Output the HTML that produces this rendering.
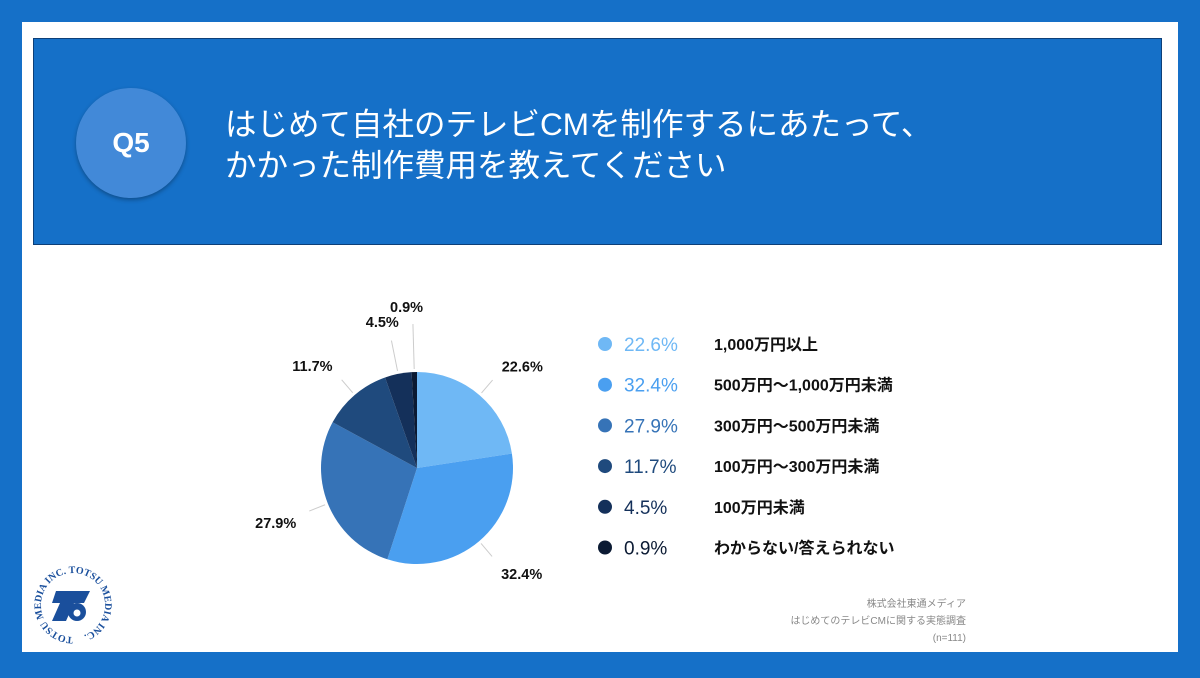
<!DOCTYPE html>
<html><head><meta charset="utf-8"><style>
body{margin:0;width:1200px;height:678px;background:#1570c8;position:relative;overflow:hidden;font-family:"Liberation Sans","Noto Sans CJK JP",sans-serif}
.abs{position:absolute}
</style></head><body>
<div class="abs" style="left:22px;top:22px;width:1156px;height:630px;background:#fff"></div>
<div class="abs" style="left:33px;top:38px;width:1127px;height:205px;background:#1570c8;border:1px solid #0d3f78"></div>
<div class="abs" style="left:76px;top:88px;width:110px;height:110px;border-radius:50%;background:#4289d8;box-shadow:0 2px 4px rgba(0,0,0,.3);color:#fff;font-weight:bold;font-size:28px;line-height:110px;text-align:center">Q5</div>
<div class="abs" style="left:225px;top:104px;color:#fff;font-size:31.5px;line-height:41px;white-space:nowrap">はじめて自社のテレビCMを制作するにあたって、<br>かかった制作費用を教えてください</div>
<svg class="abs" style="left:0;top:0" width="1200" height="678">
<g id="pie"></g><g id="legend"></g>
</svg>
<div class="abs" style="right:234px;top:596px;text-align:right;color:#888;font-size:10px;line-height:17px">株式会社東通メディア<br>はじめてのテレビCMに関する実態調査<br>(n=111)</div>
<svg class="abs" style="left:28px;top:565px" width="90" height="80" viewBox="0 0 90 80">
<defs><path id="lc" d="M45,72 a32,32 0 1,1 0.1,0"/></defs>
<text font-family="Liberation Serif" font-weight="bold" font-size="10" fill="#1a4f9c"><textPath href="#lc">TOTSU MEDIA INC. TOTSU MEDIA INC.</textPath></text>
<polygon points="28,26 62,26 56,38 46,38 38,56 24,56 32,38 24,38" fill="#1a4f9c"/>
<circle cx="49" cy="47" r="9" fill="#1a4f9c"/><circle cx="49" cy="48" r="3.5" fill="#fff"/>
</svg>
<script>
const categories=["1,000万円以上","500万円〜1,000万円未満","300万円〜500万円未満","100万円〜300万円未満","100万円未満","わからない/答えられない"];
const values=[22.6,32.4,27.9,11.7,4.5,0.9];
const labels=["22.6%","32.4%","27.9%","11.7%","4.5%","0.9%"];
const colors=["#6fb8f5","#4a9ff0","#3673b7","#1f4a7d","#14305a","#0b1a33"];
const cx=417,cy=468,r=96,NS="http://www.w3.org/2000/svg";
const pie=document.getElementById('pie'),leg=document.getElementById('legend');
const total=values.reduce((a,b)=>a+b,0);
let a0=0;
function pt(a,rr){return [cx+rr*Math.sin(a),cy-rr*Math.cos(a)];}
values.forEach((v,i)=>{
 const a1=a0+v/total*2*Math.PI;
 const p0=pt(a0,r),p1=pt(a1,r);
 const path=document.createElementNS(NS,'path');
 path.setAttribute('d',`M${cx},${cy}L${p0[0]},${p0[1]}A${r},${r} 0 ${a1-a0>Math.PI?1:0} 1 ${p1[0]},${p1[1]}Z`);
 path.setAttribute('fill',colors[i]);
 
 
 pie.appendChild(path);
 const am=(a0+a1)/2;
 const tiny=v<2, small=v<6;
 const l0=pt(am,r+3),l1=pt(am,r+(tiny?48:small?34:20));
 const ln=document.createElementNS(NS,'line');
 ln.setAttribute('x1',l0[0]);ln.setAttribute('y1',l0[1]);ln.setAttribute('x2',l1[0]);ln.setAttribute('y2',l1[1]);
 ln.setAttribute('stroke','#ccc');
 
 
 pie.appendChild(ln);
 const lt=pt(am,r+(tiny?62:small?50:34));
 const t=document.createElementNS(NS,'text');
 const s=Math.sin(am);
 t.setAttribute('x',lt[0]+(small?-6:0));t.setAttribute('y',lt[1]+(Math.cos(am)<0?12:2));
 t.setAttribute('text-anchor',small?'middle':(s>0?'start':'end'));
 t.setAttribute('font-size','14.5');t.setAttribute('font-weight','bold');t.setAttribute('fill','#111');
 t.textContent=labels[i];
 
 
 pie.appendChild(t);
 a0=a1;
 const y=344+i*40.7;
 const c=document.createElementNS(NS,'circle');
 c.setAttribute('cx',605);c.setAttribute('cy',y);c.setAttribute('r',7);c.setAttribute('fill',colors[i]);
 
 
 leg.appendChild(c);
 const tp=document.createElementNS(NS,'text');
 tp.setAttribute('x',624);tp.setAttribute('y',y+7);tp.setAttribute('font-size','19');tp.setAttribute('fill',colors[i]);
 tp.textContent=labels[i];
 
 
 leg.appendChild(tp);
 const tl=document.createElementNS(NS,'text');
 tl.setAttribute('x',714);tl.setAttribute('y',y+6);tl.setAttribute('font-size','16');tl.setAttribute('font-weight','bold');tl.setAttribute('fill','#111');
 tl.textContent=categories[i];
 
 
 leg.appendChild(tl);
});
</script>
</body></html>
